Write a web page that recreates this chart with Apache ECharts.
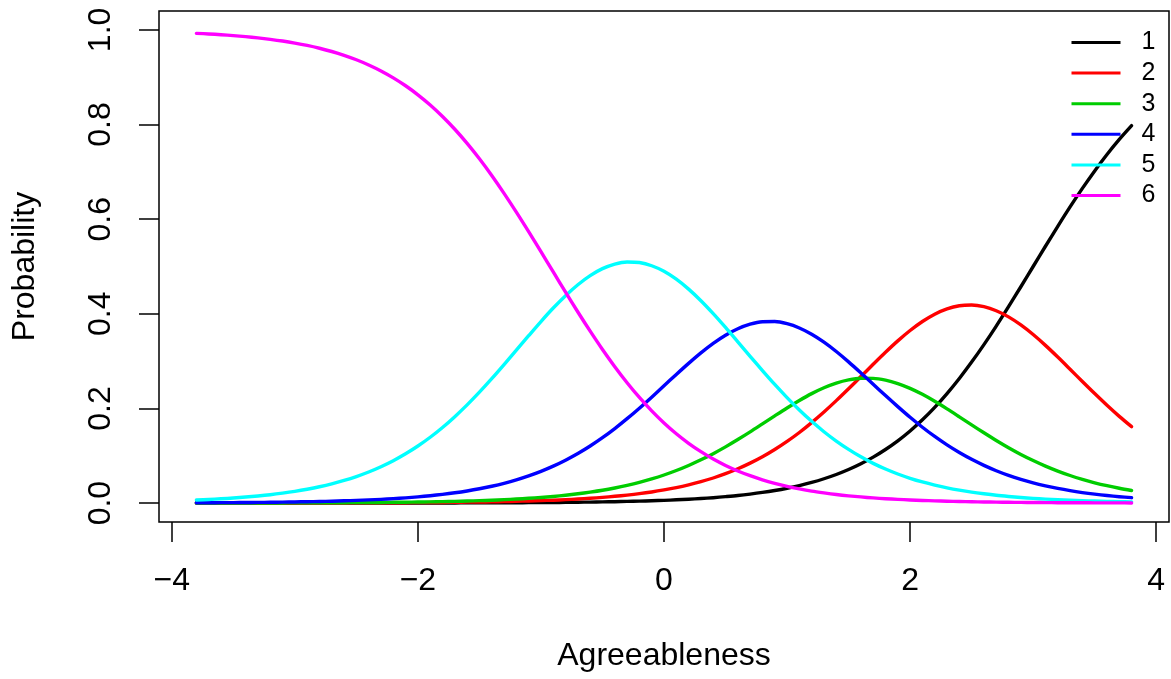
<!DOCTYPE html>
<html>
<head>
<meta charset="utf-8">
<script src="https://cdn.jsdelivr.net/npm/echarts@6/dist/echarts.min.js"></script>
<style>
html,body{margin:0;padding:0;background:#fff;}
#chart{width:1171px;height:679px;}
</style>
</head>
<body>
<div id="chart"></div>
<script>
// Ability values (x axis), -3.8 .. 3.8
var theta = [-3.8,-3.7,-3.6,-3.5,-3.4,-3.3,-3.2,-3.1,-3.0,-2.9,-2.8,-2.7,-2.6,-2.5,-2.4,-2.3,-2.2,-2.1,-2.0,-1.9,
             -1.8,-1.7,-1.6,-1.5,-1.4,-1.3,-1.2,-1.1,-1.0,-0.9,-0.8,-0.7,-0.6,-0.5,-0.4,-0.3,-0.2,-0.1,0.0,
             0.1,0.2,0.3,0.4,0.5,0.6,0.7,0.8,0.9,1.0,1.1,1.2,1.3,1.4,1.5,1.6,1.7,1.8,1.9,
             2.0,2.1,2.2,2.3,2.4,2.5,2.6,2.7,2.8,2.9,3.0,3.1,3.2,3.3,3.4,3.5,3.6,3.7,3.8];

// Category probability curves (one value per theta)
var cat1 = [0,0,0,0,0,0,0,0,0,0,0,0.0001,0.0001,0.0001,0.0001,0.0001,0.0001,0.0002,0.0002,0.0002,
            0.0003,0.0003,0.0004,0.0004,0.0005,0.0006,0.0007,0.0009,0.0010,0.0012,0.0015,0.0018,0.0021,0.0025,0.0029,0.0035,0.0041,0.0049,0.0058,
            0.0069,0.0081,0.0097,0.0114,0.0136,0.0160,0.0190,0.0225,0.0266,0.0314,0.0370,0.0436,0.0514,0.0604,0.0709,0.0831,0.0971,0.1133,0.1316,
            0.1525,0.1760,0.2023,0.2314,0.2633,0.2979,0.3349,0.3741,0.4151,0.4572,0.5000,0.5428,0.5849,0.6259,0.6651,0.7021,0.7367,0.7686,0.7977];
var cat2 = [0.0000,0.0001,0.0001,0.0001,0.0001,0.0001,0.0001,0.0001,0.0002,0.0002,0.0002,0.0003,0.0003,0.0004,0.0005,0.0006,0.0007,0.0008,0.0009,0.0011,
            0.0013,0.0016,0.0019,0.0022,0.0026,0.0031,0.0037,0.0044,0.0052,0.0061,0.0072,0.0086,0.0102,0.0120,0.0143,0.0169,0.0199,0.0235,0.0278,
            0.0327,0.0385,0.0452,0.0530,0.0621,0.0725,0.0844,0.0979,0.1132,0.1303,0.1492,0.1701,0.1925,0.2165,0.2416,0.2674,0.2933,0.3187,0.3428,
            0.3647,0.3838,0.3993,0.4105,0.4170,0.4185,0.4150,0.4065,0.3935,0.3765,0.3562,0.3333,0.3086,0.2829,0.2569,0.2314,0.2067,0.1833,0.1615];
var cat3 = [0.0001,0.0001,0.0001,0.0002,0.0002,0.0002,0.0003,0.0003,0.0004,0.0005,0.0006,0.0007,0.0008,0.0009,0.0011,0.0013,0.0016,0.0018,0.0022,0.0026,
            0.0031,0.0036,0.0043,0.0051,0.0061,0.0072,0.0085,0.0101,0.0119,0.0140,0.0166,0.0196,0.0231,0.0271,0.0319,0.0374,0.0437,0.0510,0.0593,
            0.0688,0.0795,0.0914,0.1045,0.1188,0.1342,0.1504,0.1673,0.1843,0.2010,0.2168,0.2313,0.2437,0.2536,0.2603,0.2637,0.2635,0.2598,0.2526,
            0.2425,0.2298,0.2151,0.1991,0.1823,0.1653,0.1486,0.1324,0.1171,0.1029,0.0900,0.0782,0.0677,0.0583,0.0501,0.0429,0.0367,0.0313,0.0266];
var cat4 = [0.0006,0.0007,0.0009,0.0010,0.0012,0.0014,0.0017,0.0020,0.0024,0.0029,0.0034,0.0040,0.0048,0.0056,0.0067,0.0079,0.0094,0.0111,0.0132,0.0156,
            0.0184,0.0217,0.0256,0.0302,0.0356,0.0418,0.0490,0.0574,0.0670,0.0780,0.0906,0.1047,0.1206,0.1382,0.1575,0.1784,0.2006,0.2239,0.2479,
            0.2719,0.2953,0.3175,0.3376,0.3548,0.3685,0.3781,0.3832,0.3836,0.3791,0.3701,0.3569,0.3401,0.3203,0.2984,0.2751,0.2512,0.2272,0.2038,
            0.1813,0.1603,0.1408,0.1229,0.1068,0.0924,0.0797,0.0684,0.0586,0.0501,0.0427,0.0364,0.0309,0.0262,0.0222,0.0188,0.0159,0.0135,0.0114];
var cat5 = [0.0064,0.0076,0.0090,0.0107,0.0127,0.0150,0.0177,0.0210,0.0248,0.0293,0.0345,0.0406,0.0478,0.0561,0.0657,0.0768,0.0895,0.1041,0.1206,0.1391,
            0.1598,0.1827,0.2076,0.2344,0.2629,0.2927,0.3232,0.3537,0.3837,0.4122,0.4384,0.4615,0.4808,0.4955,0.5052,0.5096,0.5084,0.5016,0.4899,
            0.4732,0.4522,0.4277,0.4004,0.3712,0.3408,0.3102,0.2800,0.2507,0.2229,0.1968,0.1728,0.1508,0.1310,0.1134,0.0977,0.0839,0.0719,0.0614,
            0.0524,0.0446,0.0379,0.0322,0.0273,0.0231,0.0196,0.0165,0.0140,0.0118,0.0100,0.0084,0.0071,0.0060,0.0050,0.0043,0.0036,0.0030,0.0026];
var cat6 = [0.9928,0.9915,0.9899,0.9880,0.9858,0.9832,0.9801,0.9765,0.9722,0.9672,0.9613,0.9544,0.9463,0.9369,0.9259,0.9133,0.8987,0.8820,0.8629,0.8414,
            0.8171,0.7901,0.7602,0.7276,0.6923,0.6546,0.6149,0.5736,0.5312,0.4884,0.4457,0.4038,0.3633,0.3246,0.2883,0.2544,0.2232,0.1950,0.1694,
            0.1466,0.1264,0.1087,0.0931,0.0796,0.0679,0.0579,0.0492,0.0418,0.0354,0.0300,0.0253,0.0215,0.0181,0.0153,0.0130,0.0109,0.0092,0.0078,
            0.0066,0.0055,0.0047,0.0039,0.0033,0.0028,0.0024,0.0020,0.0017,0.0014,0.0012,0.0010,0.0008,0.0007,0.0006,0.0005,0.0004,0.0004,0.0003];

var seriesNames = ['1','2','3','4','5','6'];
var seriesValues = [cat1, cat2, cat3, cat4, cat5, cat6];
var seriesColors = ['#000000','#FF0000','#00CD00','#0000FF','#00FFFF','#FF00FF'];

var xTicks = [-4,-2,0,2,4];
var yTicks = [0,0.2,0.4,0.6,0.8,1.0];

var FONT = '"Liberation Sans", Arial, Helvetica, sans-serif';

var chart = echarts.init(document.getElementById('chart'), null, {renderer:'canvas'});

var series = seriesValues.map(function(vals, k){
  return {
    name: seriesNames[k],
    type: 'line',
    data: theta.map(function(t,i){ return [t, vals[i]]; }),
    symbol: 'none',
    smooth: 0.3,
    lineStyle: {color: seriesColors[k], width: 3.4, join: 'round', cap: 'round'},
    itemStyle: {color: seriesColors[k]},
    emphasis: {disabled: true},
    silent: true,
    z: 3
  };
});

chart.setOption({
  animation: false,
  backgroundColor: '#ffffff',
  textStyle: {fontFamily: FONT},
  grid: {
    left: 159, top: 11, width: 1010, height: 511,
    show: true, borderColor: '#000', borderWidth: 1.5, backgroundColor: 'transparent'
  },
  legend: {
    orient: 'vertical',
    left: 1071.5, top: 30,
    padding: 0,
    icon: 'rect',
    itemWidth: 49, itemHeight: 3, itemGap: 5.6,
    data: seriesNames,
    lineStyle: {width: 3.4},
    textStyle: {fontSize: 25, lineHeight: 25, color: '#000', fontFamily: FONT, padding: [0,0,0,16]},
    selectedMode: false
  },
  xAxis: {
    type: 'value',
    min: -4.104, max: 4.104,
    name: 'Agreeableness',
    nameLocation: 'middle',
    nameGap: 118,
    nameTextStyle: {fontSize: 32, color: '#000', fontFamily: FONT},
    axisLine: {show: false, onZero: false},
    splitLine: {show: false},
    axisTick: {show: true, inside: false, length: 20, customValues: xTicks, lineStyle: {color: '#000', width: 1.5}},
    axisLabel: {
      show: true, fontSize: 32, color: '#000', margin: 43, fontFamily: FONT,
      customValues: xTicks,
      formatter: function(v){ return v < 0 ? '\u2212' + Math.abs(v) : String(v); }
    }
  },
  yAxis: {
    type: 'value',
    min: -0.04, max: 1.04,
    name: 'Probability',
    nameLocation: 'middle',
    nameGap: 118,
    nameRotate: 90,
    nameTextStyle: {fontSize: 32, color: '#000', fontFamily: FONT},
    axisLine: {show: false, onZero: false},
    splitLine: {show: false},
    axisTick: {show: true, inside: false, length: 20, customValues: yTicks, lineStyle: {color: '#000', width: 1.5}},
    axisLabel: {
      show: true, fontSize: 32, color: '#000', margin: 42, rotate: 90, fontFamily: FONT,
      customValues: yTicks,
      formatter: function(v){ return v.toFixed(1); }
    }
  },
  series: series
});
</script>
</body>
</html>
